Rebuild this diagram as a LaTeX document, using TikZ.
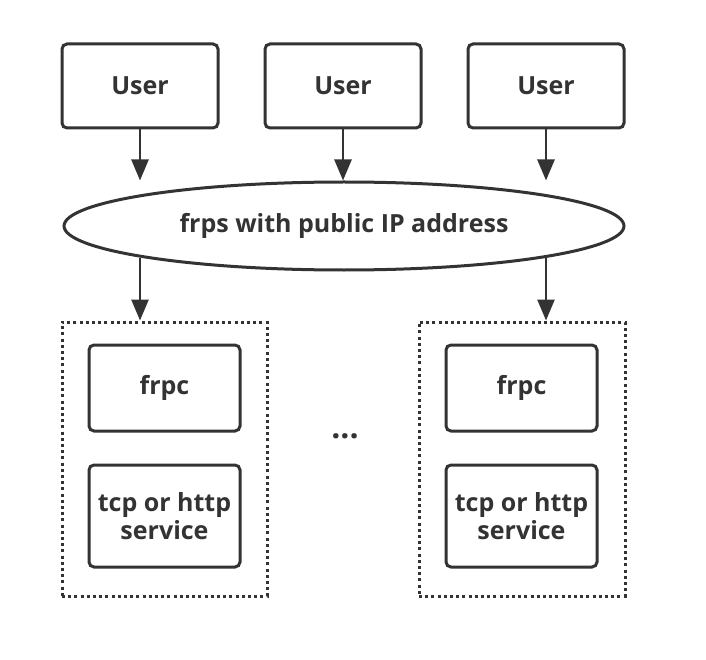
\documentclass[tikz,border=0pt]{standalone}
\usepackage{fontspec}
\setmainfont{Open Sans}
\usetikzlibrary{shapes.geometric,arrows.meta}
\definecolor{ink}{HTML}{333333}
\tikzset{
  lbl/.style={font=\bfseries\fontsize{25}{28}\selectfont, text=ink},
  box/.style={lbl, draw=ink, line width=3pt, rounded corners=5pt, fill=white, align=center, inner sep=0pt},
  grp/.style={draw=ink, line width=3pt, dash pattern=on 3pt off 3.2pt, inner sep=0pt},
  arr/.style={draw=ink, line width=2.6pt, -{Triangle[length=21pt,width=17pt]}},
}
\begin{document}
\begin{tikzpicture}[x=1pt,y=-1pt]
\useasboundingbox (0,0) rectangle (706,660);
\node[box, minimum width=156pt, minimum height=84pt] (u1) at (140,86) {User};
\node[box, minimum width=156pt, minimum height=84pt] (u2) at (343,86) {User};
\node[box, minimum width=156pt, minimum height=84pt] (u3) at (546,86) {User};
\node[ellipse, lbl, draw=ink, line width=3pt, minimum width=560pt, minimum height=88pt, inner sep=0pt] (s) at (344,226) {frps with public IP address};
\node[grp, minimum width=205pt, minimum height=274pt] (g1) at (164.5,459) {};
\node[grp, minimum width=206pt, minimum height=274pt] (g2) at (522,459) {};
\node[box, minimum width=151pt, minimum height=86pt] (c1) at (164.5,388) {frpc};
\node[box, minimum width=151pt, minimum height=102pt] (t1) at (164.5,516) {tcp or http\\service};
\node[box, minimum width=151pt, minimum height=86pt] (c2) at (521.5,388) {frpc};
\node[box, minimum width=151pt, minimum height=102pt] (t2) at (521.5,516) {tcp or http\\service};
\node[lbl, font=\bfseries\fontsize{32}{34}\selectfont] (dots) at (345,436) {...};
\draw[arr] (u1.south) -- (u1.south |- s.north);
\draw[arr] (u2.south) -- (u2.south |- s.north);
\draw[arr] (u3.south) -- (u3.south |- s.north);
\coordinate (a1) at (140,258);
\coordinate (a2) at (546,258);
\draw[arr] (a1) -- (a1 |- g1.north);
\draw[arr] (a2) -- (a2 |- g2.north);
\end{tikzpicture}
\end{document}
